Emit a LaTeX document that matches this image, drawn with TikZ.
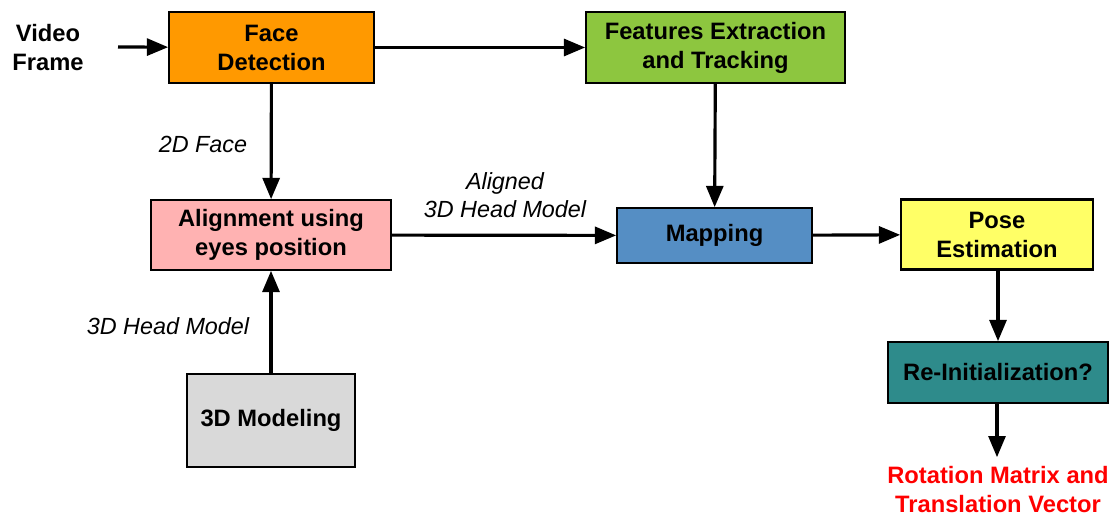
\documentclass[tikz,border=0pt]{standalone}
\usepackage{fontspec}
\setmainfont{Liberation Sans}
\usetikzlibrary{arrows,positioning}
\definecolor{faceorange}{RGB}{255,153,0}
\definecolor{featgreen}{RGB}{141,198,63}
\definecolor{alignpink}{RGB}{255,178,178}
\definecolor{mapblue}{RGB}{85,142,196}
\definecolor{poseyellow}{RGB}{255,255,102}
\definecolor{reinitteal}{RGB}{46,139,139}
\definecolor{modelgray}{RGB}{217,217,217}
\tikzset{font=\fontsize{13.5}{16.5}\selectfont\bfseries}
\tikzstyle{blk}=[draw,line width=1.2pt,align=center,inner sep=0pt]
\tikzstyle{lbl}=[align=center,font=\fontsize{13.3}{16}\selectfont\itshape]

\begin{document}
\begin{tikzpicture}[x=0.02cm,y=-0.02cm]
\useasboundingbox (0,0) rectangle (1118,516);
\node (V) at (48,48) [align=center] {Video\\Frame};
\coordinate (V') at (118,47);
\node[blk,fill=faceorange,minimum width=205*0.02cm,minimum height=71*0.02cm] (F) at (271.5,47.5) {Face\\Detection};
\node[blk,fill=featgreen,minimum width=259*0.02cm,minimum height=71*0.02cm] (T) at (715.5,47.5) {Features Extraction\\and Tracking};
\node[blk,fill=alignpink,minimum width=240*0.02cm,minimum height=70*0.02cm] (A) at (271,235) {Alignment using\\eyes position};
\node[blk,fill=mapblue,minimum width=195*0.02cm,minimum height=55*0.02cm] (M) at (714.5,235.5) {Mapping};
\node[blk,fill=poseyellow,minimum width=192*0.02cm,minimum height=70*0.02cm] (P) at (997,234.5) {Pose\\Estimation};
\node[blk,fill=reinitteal,minimum width=220*0.02cm,minimum height=61*0.02cm] (R) at (998,372.5) {Re-Initialization?};
\node[blk,fill=modelgray,minimum width=168*0.02cm,minimum height=93*0.02cm] (D) at (271,420.5) {3D Modeling};
\node (O) at (998,490) [align=center,text=red,inner sep=0pt] {Rotation Matrix and\\Translation Vector};
\coordinate (O') at (997,457);
%\node (L) at (203,143) {};
\node[lbl] at (203,144) {2D Face};
\node[lbl] at (168,326) {3D Head Model};
\node[lbl] at (505,195) {Aligned\\3D Head Model};
\path[->,line width=1.8pt,>=triangle 45]
(V') edge (F)
(F) edge (T)
(F) edge (A)
(T) edge (M)
(A) edge (M)
(M) edge (P)
(D) edge (A)
(P.south -| R.north) edge (R)
(R.south -| O') edge (O');
\end{tikzpicture}
\end{document}
